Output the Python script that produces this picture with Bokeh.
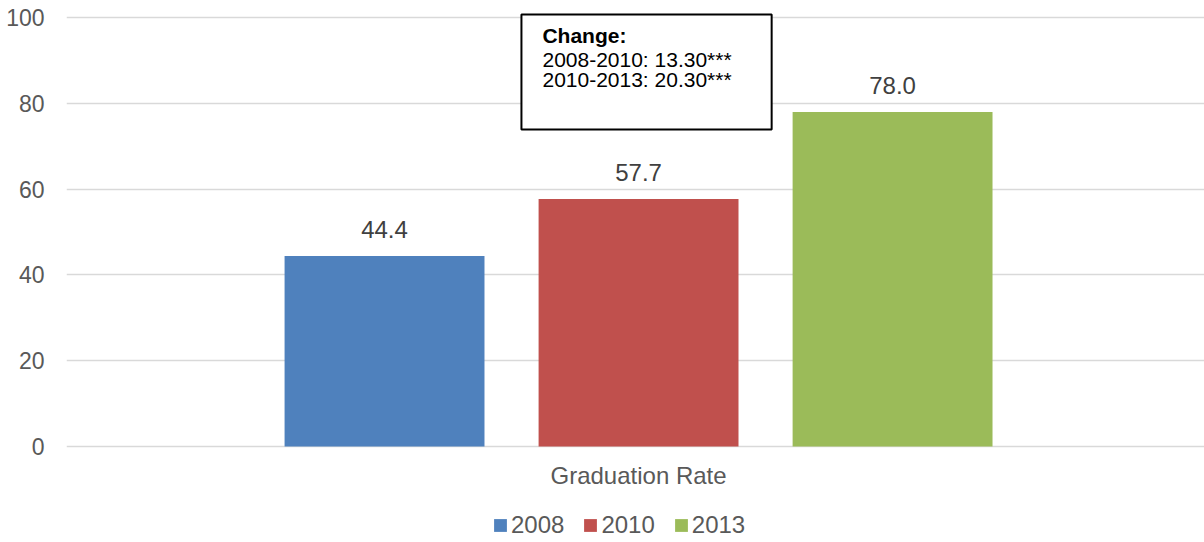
from bokeh.plotting import figure
from bokeh.models import (Range1d, ColumnDataSource, LabelSet, Label,
                          BoxAnnotation, Legend, LegendItem, FixedTicker)
from bokeh.core.properties import value
from bokeh.embed import file_html
from bokeh.resources import INLINE

# ---- data ----
years = ["2008", "2010", "2013"]
rates = [44.4, 57.7, 78.0]
colors = ["#4F81BD", "#C0504D", "#9BBB59"]
category = "Graduation Rate"
y_ticks = [0, 20, 40, 60, 80, 100]
change_title = "Change:"
change_lines = ["2008-2010: 13.30***", "2010-2013: 20.30***"]

FONT = "Liberation Sans"

positions = list(range(len(years)))
src = ColumnDataSource(dict(pos=positions, year=years, rate=rates, color=colors,
                            label=[f"{v:.1f}" for v in rates]))

p = figure(width=1204, height=542,
           x_range=Range1d(-1.252, 3.228),
           y_range=Range1d(-22.39, 101.45),
           output_backend="svg", toolbar_location=None,
           min_border_left=66, min_border_right=0, min_border_top=11,
           min_border_bottom=0)

p.outline_line_color = None
p.background_fill_color = "white"
p.xgrid.grid_line_color = None
p.ygrid.grid_line_color = "#D9D9D9"
p.ygrid.grid_line_width = 1.5

p.yaxis.ticker = FixedTicker(ticks=y_ticks)
p.yaxis.axis_line_color = None
p.yaxis.major_tick_out = 0
p.yaxis.major_tick_in = 0
p.yaxis.minor_tick_out = 0
p.yaxis.minor_tick_in = 0
p.yaxis.major_label_standoff = 22
p.yaxis.major_label_text_font = FONT
p.yaxis.major_label_text_font_size = "23px"
p.yaxis.major_label_text_color = "#595959"

p.xaxis.visible = False

bars = p.vbar(x="pos", top="rate", bottom=0, width=0.787, fill_color="color",
              line_color=None, source=src)

labels = LabelSet(x="pos", y="rate", text="label", source=src,
                  text_align="center", text_baseline="alphabetic", y_offset=18,
                  text_font=value(FONT), text_font_size=value("24px"),
                  text_color="#404040")
p.add_layout(labels)

# category label centred under the group of bars
group_center = (len(years) - 1) / 2
p.add_layout(Label(x=group_center, y=0, y_offset=-29, text=category, text_align="center",
                   text_baseline="alphabetic", text_font=FONT, text_font_size="24px",
                   text_color="#595959"))

# annotation box
box_left, box_right, box_top, box_bottom = 0.539, 1.524, 100.75, 73.93
p.add_layout(BoxAnnotation(left=box_left, right=box_right, top=box_top, bottom=box_bottom,
                           fill_color="white", fill_alpha=1.0,
                           line_color="black", line_alpha=1.0, line_width=2,
                           level="overlay"))
p.add_layout(Label(x=box_left, y=box_top, x_offset=21, y_offset=-21, text=change_title,
                   text_font=FONT, text_font_size="21px", text_font_style="bold",
                   text_color="black", text_baseline="alphabetic", level="overlay"))
for i, line in enumerate(change_lines):
    p.add_layout(Label(x=box_left, y=box_top, x_offset=21, y_offset=-(45 + 20 * i), text=line,
                       text_font=FONT, text_font_size="21px",
                       text_color="black", text_baseline="alphabetic", level="overlay"))

legend = Legend(items=[LegendItem(label=y, renderers=[bars], index=i) for i, y in enumerate(years)],
                orientation="horizontal", location=(426, 3),
                glyph_width=16, glyph_height=16, label_standoff=3, spacing=18,
                padding=0, margin=0, border_line_color=None, background_fill_alpha=0,
                label_text_font=FONT, label_text_font_size="24px", label_text_color="#595959")
p.add_layout(legend)

open("out.html", "w").write(file_html(p, INLINE))
